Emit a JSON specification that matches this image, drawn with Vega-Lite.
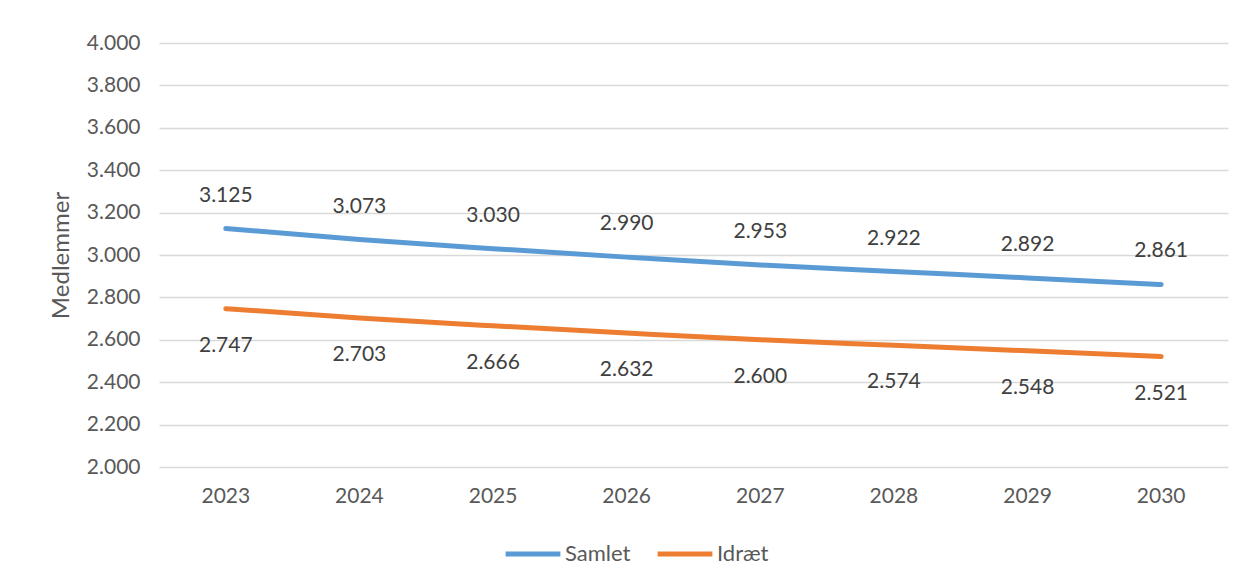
{
  "$schema": "https://vega.github.io/schema/vega-lite/v6.json",
  "autosize": {"type": "none"},
  "width": 1069,
  "height": 424,
  "padding": {"left": 159, "top": 43, "right": 20, "bottom": 114},
  "background": "white",
  "config": {
    "locale": {"number": {"decimal": ",", "thousands": ".", "grouping": [3], "currency": ["", " kr."]}},
    "font": "Lato",
    "view": {"stroke": null}
  },
  "data": {
    "values": [
      {"year": "2023", "series": "Samlet", "value": 3125},
      {"year": "2024", "series": "Samlet", "value": 3073},
      {"year": "2025", "series": "Samlet", "value": 3030},
      {"year": "2026", "series": "Samlet", "value": 2990},
      {"year": "2027", "series": "Samlet", "value": 2953},
      {"year": "2028", "series": "Samlet", "value": 2922},
      {"year": "2029", "series": "Samlet", "value": 2892},
      {"year": "2030", "series": "Samlet", "value": 2861},
      {"year": "2023", "series": "Idræt", "value": 2747},
      {"year": "2024", "series": "Idræt", "value": 2703},
      {"year": "2025", "series": "Idræt", "value": 2666},
      {"year": "2026", "series": "Idræt", "value": 2632},
      {"year": "2027", "series": "Idræt", "value": 2600},
      {"year": "2028", "series": "Idræt", "value": 2574},
      {"year": "2029", "series": "Idræt", "value": 2548},
      {"year": "2030", "series": "Idræt", "value": 2521}
    ]
  },
  "encoding": {
    "x": {"field": "year", "type": "ordinal", "scale": {"type": "band", "paddingInner": 0, "paddingOuter": 0},
      "axis": {"title": null, "labelAngle": 0, "labelPadding": 18, "grid": false, "domain": false, "ticks": false,
        "labelFontSize": 21, "labelColor": "#595959", "labelFont": "Lato"}},
    "y": {"field": "value", "type": "quantitative",
      "scale": {"domain": [2000, 4000], "nice": false, "zero": false},
      "axis": {"title": "Medlemmer", "titleFontSize": 24, "titleFontWeight": "normal", "titleColor": "#595959", "titleFont": "Lato", "titlePadding": 13,
        "format": ",d", "values": [2000,2200,2400,2600,2800,3000,3200,3400,3600,3800,4000], "labelOverlap": false,
        "gridColor": "#d9d9d9", "gridWidth": 1.5, "labelPadding": 19, "domain": false, "ticks": false,
        "labelFontSize": 21, "labelColor": "#595959", "labelFont": "Lato"}}
  },
  "layer": [
    {
      "mark": {"type": "line", "strokeWidth": 5, "interpolate": "monotone", "strokeCap": "round"},
      "encoding": {
        "color": {"field": "series", "type": "nominal",
          "scale": {"domain": ["Samlet", "Idræt"], "range": ["#5b9bd5", "#ed7d31"]},
          "legend": {"title": null, "orient": "none", "direction": "horizontal", "legendX": 344, "legendY": 481,
            "symbolType": "stroke", "symbolSize": 3000, "symbolStrokeWidth": 5, "labelFontSize": 22, "labelFont": "Lato", "labelColor": "#595959", "columnPadding": 16, "labelOffset": 2}}
      }
    },
    {
      "transform": [{"filter": "datum.series === 'Samlet'"}],
      "mark": {"type": "text", "dy": -33, "fontSize": 21, "color": "#404040"},
      "encoding": {"text": {"field": "value", "type": "quantitative", "format": ",d"}}
    },
    {
      "transform": [{"filter": "datum.series === 'Idræt'"}],
      "mark": {"type": "text", "dy": 37, "fontSize": 21, "color": "#404040"},
      "encoding": {"text": {"field": "value", "type": "quantitative", "format": ",d"}}
    }
  ]
}
